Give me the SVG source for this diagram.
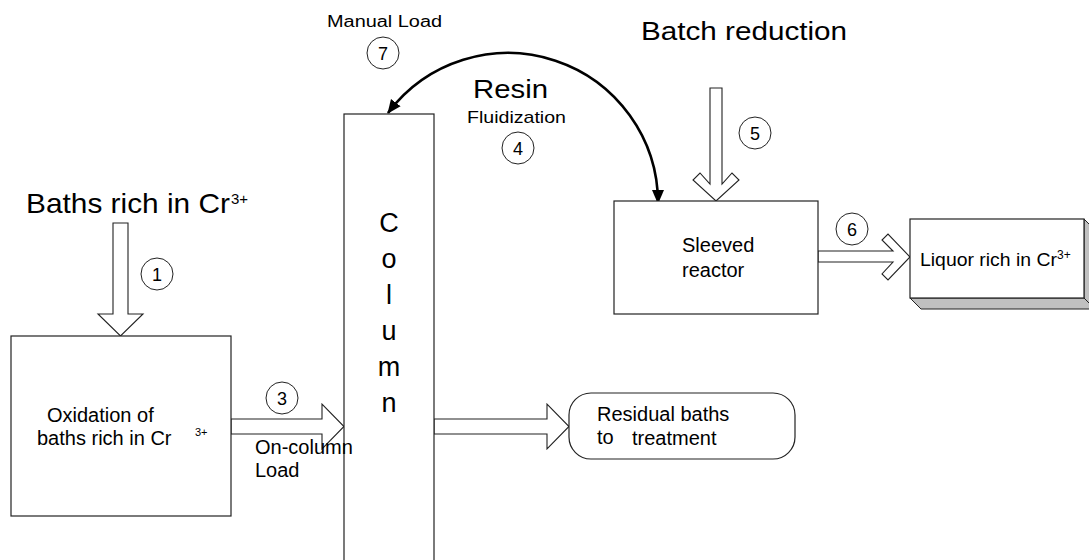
<svg xmlns="http://www.w3.org/2000/svg" width="1089" height="560" viewBox="0 0 1089 560">
  <style>
    text { font-family: "Liberation Sans", Arial, sans-serif; fill: #000; }
    .box { fill: #fff; stroke: #222; stroke-width: 1.2; }
    .block { fill: #fff; stroke: #222; stroke-width: 1.1; stroke-linejoin: miter; }
    .num { fill: #fff; stroke: #222; stroke-width: 1; }
    .numtxt { font-size: 18px; text-anchor: middle; }
    .lbl { font-size: 20px; }
    .col { font-size: 27px; text-anchor: middle; }
    .curve { fill: none; stroke: #000; stroke-width: 2.6; }
  </style>
  <defs>
    <marker id="head" markerUnits="userSpaceOnUse" markerWidth="14" markerHeight="14" viewBox="0 0 14 12" refX="13" refY="6" orient="auto-start-reverse">
      <path d="M0,0 L14,6 L0,12 Z" fill="#000"/>
    </marker>
  </defs>

  <!-- connectors -->
  <g id="connectors">
    <!-- 1: feed into oxidation -->
    <polygon class="block" points="113,223 128,223 128,314 143,314 120.5,336 98,314 113,314"/>
    <!-- 3: on-column load -->
    <polygon class="block" points="231,419 322,419 322,404 344,426.5 322,449 322,434 231,434"/>
    <!-- column to residual baths -->
    <polygon class="block" points="434,419 547,419 547,404 569,426.5 547,449 547,434 434,434"/>
    <!-- 5: batch reduction feed (chevron head) -->
    <polygon class="block" points="710,88 722,88 722,184 732,173 739,180 716,201 693,180 700,173 710,184"/>
    <!-- 6: reactor to liquor (chevron head) -->
    <polygon class="block" points="818,251 893,251 882,240 888,234 910,257 888,280 882,274 893,262 818,262"/>
    <!-- 4/7: resin transfer between column and reactor -->
    <path class="curve" d="M 388 113 A 150 150 0 0 1 658 203" marker-start="url(#head)" marker-end="url(#head)"/>
  </g>

  <!-- step markers -->
  <g id="steps">
    <circle class="num" cx="157" cy="274" r="16"/><text class="numtxt" x="157" y="280.5">1</text>
    <circle class="num" cx="114" cy="467" r="16"/><text class="numtxt" x="114" y="473.5">2</text>
    <circle class="num" cx="282" cy="398" r="16"/><text class="numtxt" x="282" y="404.5">3</text>
    <circle class="num" cx="518" cy="148" r="16"/><text class="numtxt" x="518" y="154.5">4</text>
    <circle class="num" cx="755" cy="133" r="16"/><text class="numtxt" x="755" y="139.5">5</text>
    <circle class="num" cx="852" cy="229" r="16"/><text class="numtxt" x="852" y="235.5">6</text>
    <circle class="num" cx="383" cy="53" r="16"/><text class="numtxt" x="383" y="59.5">7</text>
  </g>

  <g id="oxidation">
    <rect class="box" x="11" y="336" width="220" height="180"/>
    <text class="lbl" x="47" y="422">Oxidation of</text>
    <text class="lbl" x="37" y="445">baths rich in Cr</text>
    <text x="195" y="436" font-size="11">3+</text>
  </g>

  <g id="column">
    <rect class="box" x="344" y="114" width="90" height="456"/>
    <text class="col" x="389" y="232">C</text>
    <text class="col" x="389" y="268">o</text>
    <text class="col" x="389" y="304">l</text>
    <text class="col" x="389" y="340">u</text>
    <text class="col" x="389" y="376">m</text>
    <text class="col" x="389" y="412">n</text>
  </g>

  <g id="reactor">
    <rect class="box" x="614" y="201" width="204" height="113"/>
    <text class="lbl" x="682" y="252">Sleeved</text>
    <text class="lbl" x="682" y="277">reactor</text>
  </g>

  <g id="liquor">
    <polygon points="910,298 1084,298 1095,309 921,309" fill="#c0c0c0" stroke="#222" stroke-width="1"/>
    <polygon points="1084,219 1095,230 1095,309 1084,298" fill="#c0c0c0" stroke="#222" stroke-width="1"/>
    <rect class="box" x="910" y="219" width="174" height="79"/>
    <text x="920" y="266" font-size="19" textLength="137" lengthAdjust="spacingAndGlyphs">Liquor rich in Cr</text>
    <text x="1057" y="259" font-size="12">3+</text>
  </g>

  <g id="residual">
    <rect class="box" x="569" y="393" width="226" height="66" rx="22" ry="22"/>
    <text class="lbl" x="597" y="421">Residual baths</text>
    <text class="lbl" x="597" y="444">to</text>
    <text class="lbl" x="632" y="445">treatment</text>
  </g>

  <!-- free labels, drawn last so they sit over the shapes -->
  <g id="labels">
    <text x="26" y="213" font-size="28" textLength="204" lengthAdjust="spacingAndGlyphs">Baths rich in Cr</text>
    <text x="231" y="204" font-size="15">3+</text>
    <text x="327" y="27" font-size="16" textLength="115" lengthAdjust="spacingAndGlyphs">Manual Load</text>
    <text x="473" y="98" font-size="25" textLength="75" lengthAdjust="spacingAndGlyphs">Resin</text>
    <text x="467" y="123" font-size="17" textLength="99" lengthAdjust="spacingAndGlyphs">Fluidization</text>
    <text x="641" y="40" font-size="26" textLength="206" lengthAdjust="spacingAndGlyphs">Batch reduction</text>
    <text class="lbl" x="255" y="454">On-column</text>
    <text class="lbl" x="255" y="477">Load</text>
  </g>
</svg>
